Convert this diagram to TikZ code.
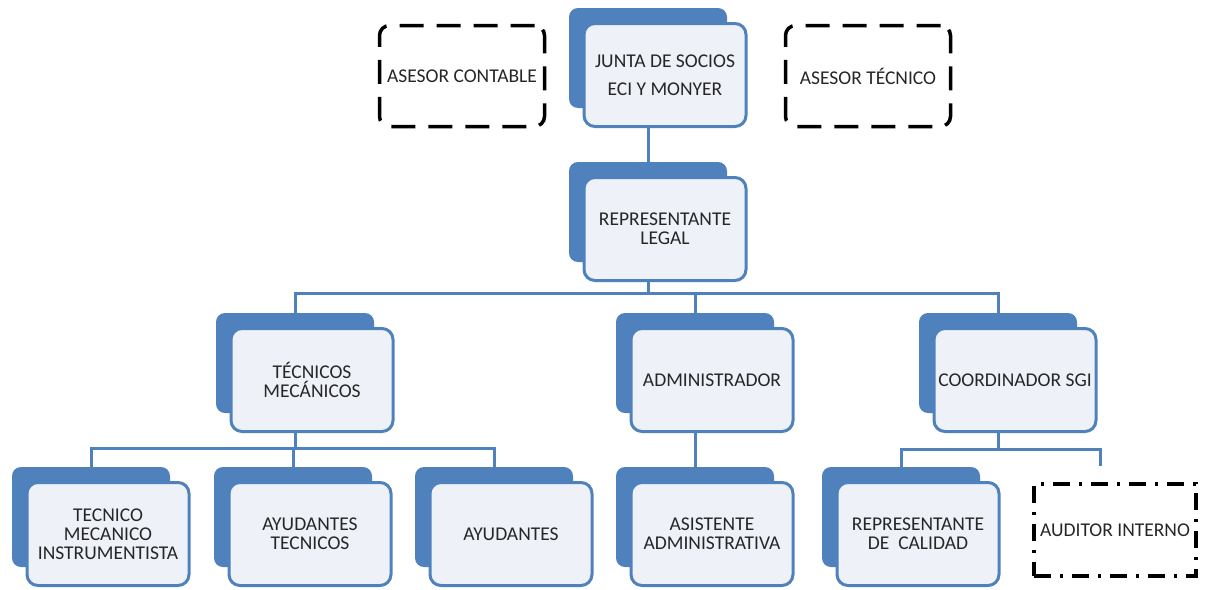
\documentclass[tikz,border=0pt]{standalone}
\usepackage{fontspec}
\setmainfont{Carlito}
\usepackage{tikz}
\usetikzlibrary{arrows}
\usetikzlibrary{positioning}
\usetikzlibrary{backgrounds}
\usepackage{xcolor}
\definecolor{cargo}{HTML}{4F81BD}
\definecolor{cargofondo}{HTML}{EEF2F8}

\begin{document}
\begin{tikzpicture}[x=1pt,y=-1pt]
		\tikzstyle{atras} = [rectangle, rounded corners=9pt, fill=cargo, minimum width=158pt, minimum height=100pt, inner sep=0pt]
		\tikzstyle{frente} = [rectangle, rounded corners=11pt, draw=cargo, line width=3pt, fill=cargofondo, minimum width=162pt, minimum height=103pt, align=center, text=black!85, font=\fontsize{19.5}{19}\selectfont]
		\tikzstyle{asesor} = [rectangle, rounded corners=10pt, draw=black, line width=3.5pt, dash pattern=on 24pt off 13pt, minimum width=165pt, minimum height=101pt, text=black!85, font=\fontsize{19.5}{19}\selectfont]
		\tikzstyle{auditor} = [rectangle, draw=black, line width=3.5pt, dash pattern=on 17pt off 9pt on 3pt off 9pt, minimum width=162pt, minimum height=92pt, text=black!85, font=\fontsize{19.5}{19}\selectfont]
		\tikzstyle{linea} = [draw=cargo, line width=3pt]
		\useasboundingbox (0,0) rectangle (1207,589);

		% junta y asesores
		\node[atras] (js-b) at (648,58) {};
		\node[frente] (js) at ([shift={(17,17)}]js-b) {JUNTA DE SOCIOS\\[9pt]ECI Y MONYER};
		\node[asesor] (ac) at (462,76) {ASESOR CONTABLE};
		\node[asesor] (at) at (868,76) {ASESOR TÉCNICO};

		\node[atras] (rl-b) at (648,212) {};
		\node[frente] (rl) at ([shift={(17,17)}]rl-b) {REPRESENTANTE\\LEGAL};

		% segundo nivel
		\node[atras] (tm-b) at (295,363) {};
		\node[frente] (tm) at ([shift={(17,17)}]tm-b) {TÉCNICOS\\MECÁNICOS};
		\node[atras] (ad-b) at (695,363) {};
		\node[frente] (ad) at ([shift={(17,17)}]ad-b) {ADMINISTRADOR};
		\node[atras] (co-b) at (998,363) {};
		\node[frente] (co) at ([shift={(17,17)}]co-b) {COORDINADOR SGI};

		% tercer nivel
		\node[atras] (tmi-b) at (91,517) {};
		\node[frente] (tmi) at ([shift={(17,17)}]tmi-b) {TECNICO\\MECANICO\\INSTRUMENTISTA};
		\node[atras] (ayt-b) at (293,517) {};
		\node[frente] (ayt) at ([shift={(17,17)}]ayt-b) {AYUDANTES\\TECNICOS};
		\node[atras] (ay-b) at (494,517) {};
		\node[frente] (ay) at ([shift={(17,17)}]ay-b) {AYUDANTES};
		\node[atras] (asi-b) at (695,517) {};
		\node[frente] (asi) at ([shift={(17,17)}]asi-b) {ASISTENTE\\ADMINISTRATIVA};
		\node[atras] (rc-b) at (901,517) {};
		\node[frente] (rc) at ([shift={(17,17)}]rc-b) {REPRESENTANTE\\DE \ CALIDAD};
		\node[auditor] (aud) at (1115,530) {AUDITOR INTERNO};

		\coordinate (barra1) at (0,293);
		\coordinate (barra2) at (0,448);
		\coordinate (barra3) at (0,449);
		\coordinate (aud-top) at (1100,466);

		\begin{pgfonlayer}{background}
			\draw[linea] (js-b) -- (rl-b);
			\draw[linea] (rl-b) -- (rl-b |- barra1) -| (tm-b);
			\draw[linea] (rl-b |- barra1) -| (ad-b);
			\draw[linea] (rl-b |- barra1) -| (co-b);

			\draw[linea] (tm-b) -- (tm-b |- barra2) -| (tmi-b);
			\draw[linea] (tm-b |- barra2) -| (ayt-b);
			\draw[linea] (tm-b |- barra2) -| (ay-b);

			\draw[linea] (ad-b) -- (asi-b);

			\draw[linea] (co-b) -- (co-b |- barra3) -| (rc-b);
			\draw[linea] (co-b |- barra3) -| (aud-top);
		\end{pgfonlayer}

		\end{tikzpicture}
\end{document}
